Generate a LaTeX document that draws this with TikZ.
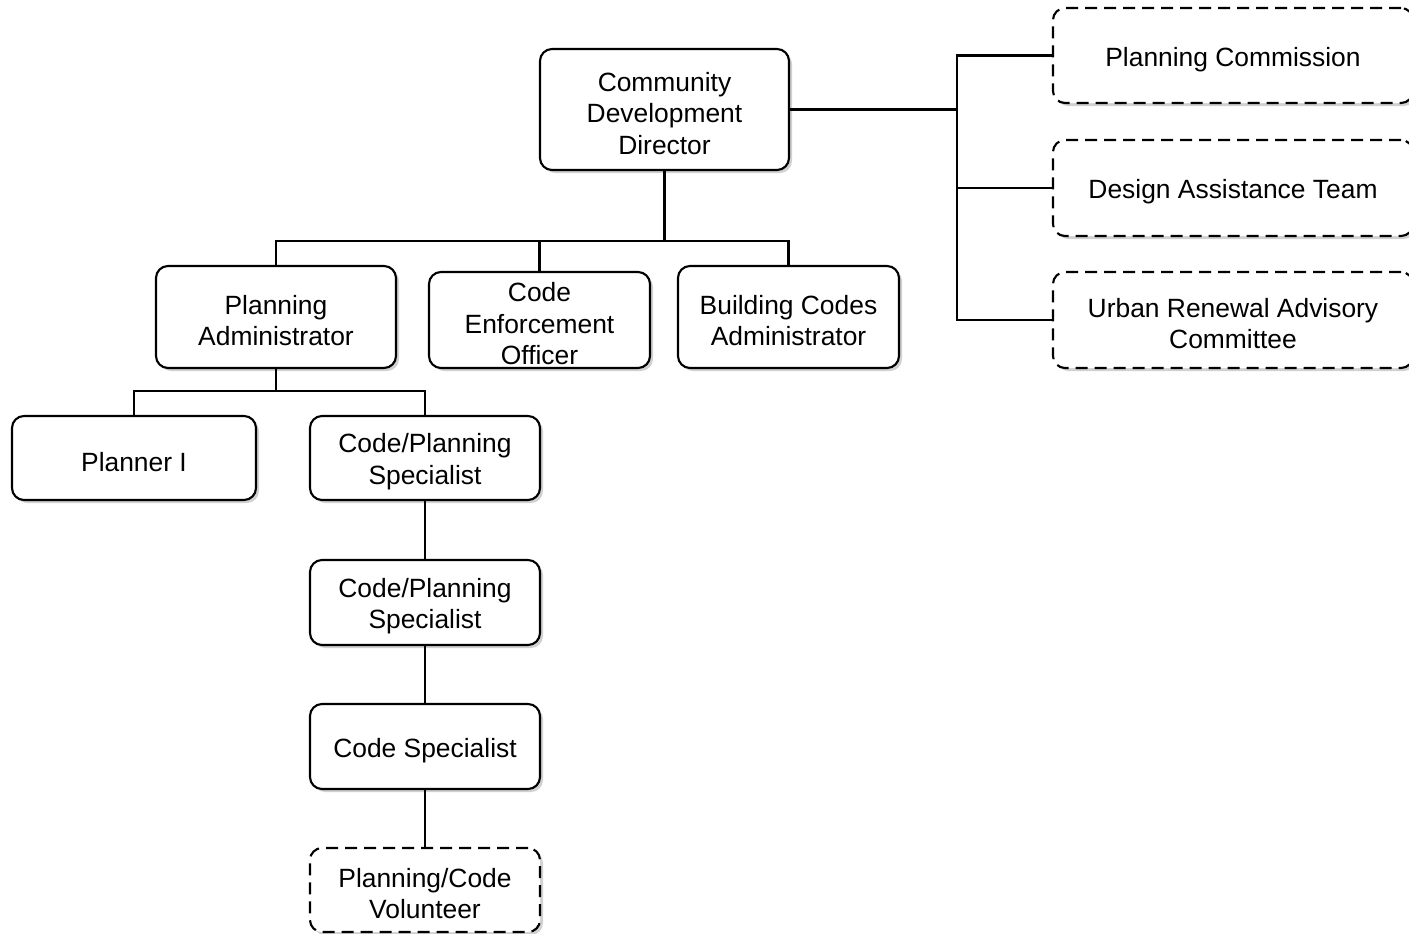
\documentclass[tikz,border=0pt]{standalone}
\usepackage{fontspec}
\setmainfont{Liberation Sans}
\usetikzlibrary{shadows}
\newcommand\topgap{\rule{0pt}{26.5pt}}
\begin{document}
\begin{tikzpicture}[x=1pt,y=-1pt,
  box/.style={draw=black, line width=2.1pt, rounded corners=12pt, fill=white,
    align=center, inner sep=0pt, font=\fontsize{26.4}{31.5}\selectfont,
    drop shadow={shadow xshift=3pt, shadow yshift=-3pt, fill=black!18, opacity=1}},
  dbox/.style={box, dash pattern=on 12pt off 7pt},
  link/.style={draw=black, line width=2.1pt}]
\useasboundingbox (0,0) rectangle (1409,934);
% main nodes
\node[box, minimum width=249pt, minimum height=121pt] (cdd) at (664.5,109.5) {\topgap Community\\Development\\Director};
\node[box, minimum width=240pt, minimum height=102pt] (pa) at (276,317) {\topgap Planning\\Administrator};
\node[box, minimum width=221pt, minimum height=96pt] (ceo) at (539.5,320) {\topgap Code\\Enforcement\\Officer};
\node[box, minimum width=221pt, minimum height=102pt] (bca) at (788.5,317) {\topgap Building Codes\\Administrator};
\node[box, minimum width=244pt, minimum height=84pt] (p1) at (134,458) {\topgap Planner I};
\node[box, minimum width=230pt, minimum height=84pt] (cps1) at (425,458) {\topgap Code/Planning\\Specialist};
\node[box, minimum width=230pt, minimum height=85pt] (cps2) at (425,602.5) {\topgap Code/Planning\\Specialist};
\node[box, minimum width=230pt, minimum height=85pt] (cs) at (425,746.5) {\topgap Code Specialist};
\node[dbox, minimum width=230pt, minimum height=84pt] (vol) at (425,890) {\topgap Planning/Code\\Volunteer};
% advisory boards
\node[dbox, minimum width=360pt, minimum height=95pt] (pc) at (1233,55.5) {\topgap Planning Commission};
\node[dbox, minimum width=360pt, minimum height=96pt] (dat) at (1233,188) {\topgap Design Assistance Team};
\node[dbox, minimum width=360pt, minimum height=96pt] (ur) at (1233,320) {\topgap Urban Renewal Advisory\\Committee};
% junctions
\coordinate (j1) at (664.5,241);
\coordinate (j2) at (957,109.5);
\coordinate (j3) at (276,391);
% connectors
\draw[link] (cdd.south) -- (j1);
\draw[link] (j1) -| (pa.north);
\draw[link] (j1) -| (ceo.north);
\draw[link] (j1) -| (bca.north);
\draw[link] (cdd.east) -- (j2);
\draw[link] (j2) |- (pc.west);
\draw[link] (j2) |- (dat.west);
\draw[link] (j2) |- (ur.west);
\draw[link] (pa.south) -- (j3);
\draw[link] (j3) -| (p1.north);
\draw[link] (j3) -| (cps1.north);
\draw[link] (cps1.south) -- (cps2.north);
\draw[link] (cps2.south) -- (cs.north);
\draw[link] (cs.south) -- (vol.north);
\end{tikzpicture}
\end{document}
